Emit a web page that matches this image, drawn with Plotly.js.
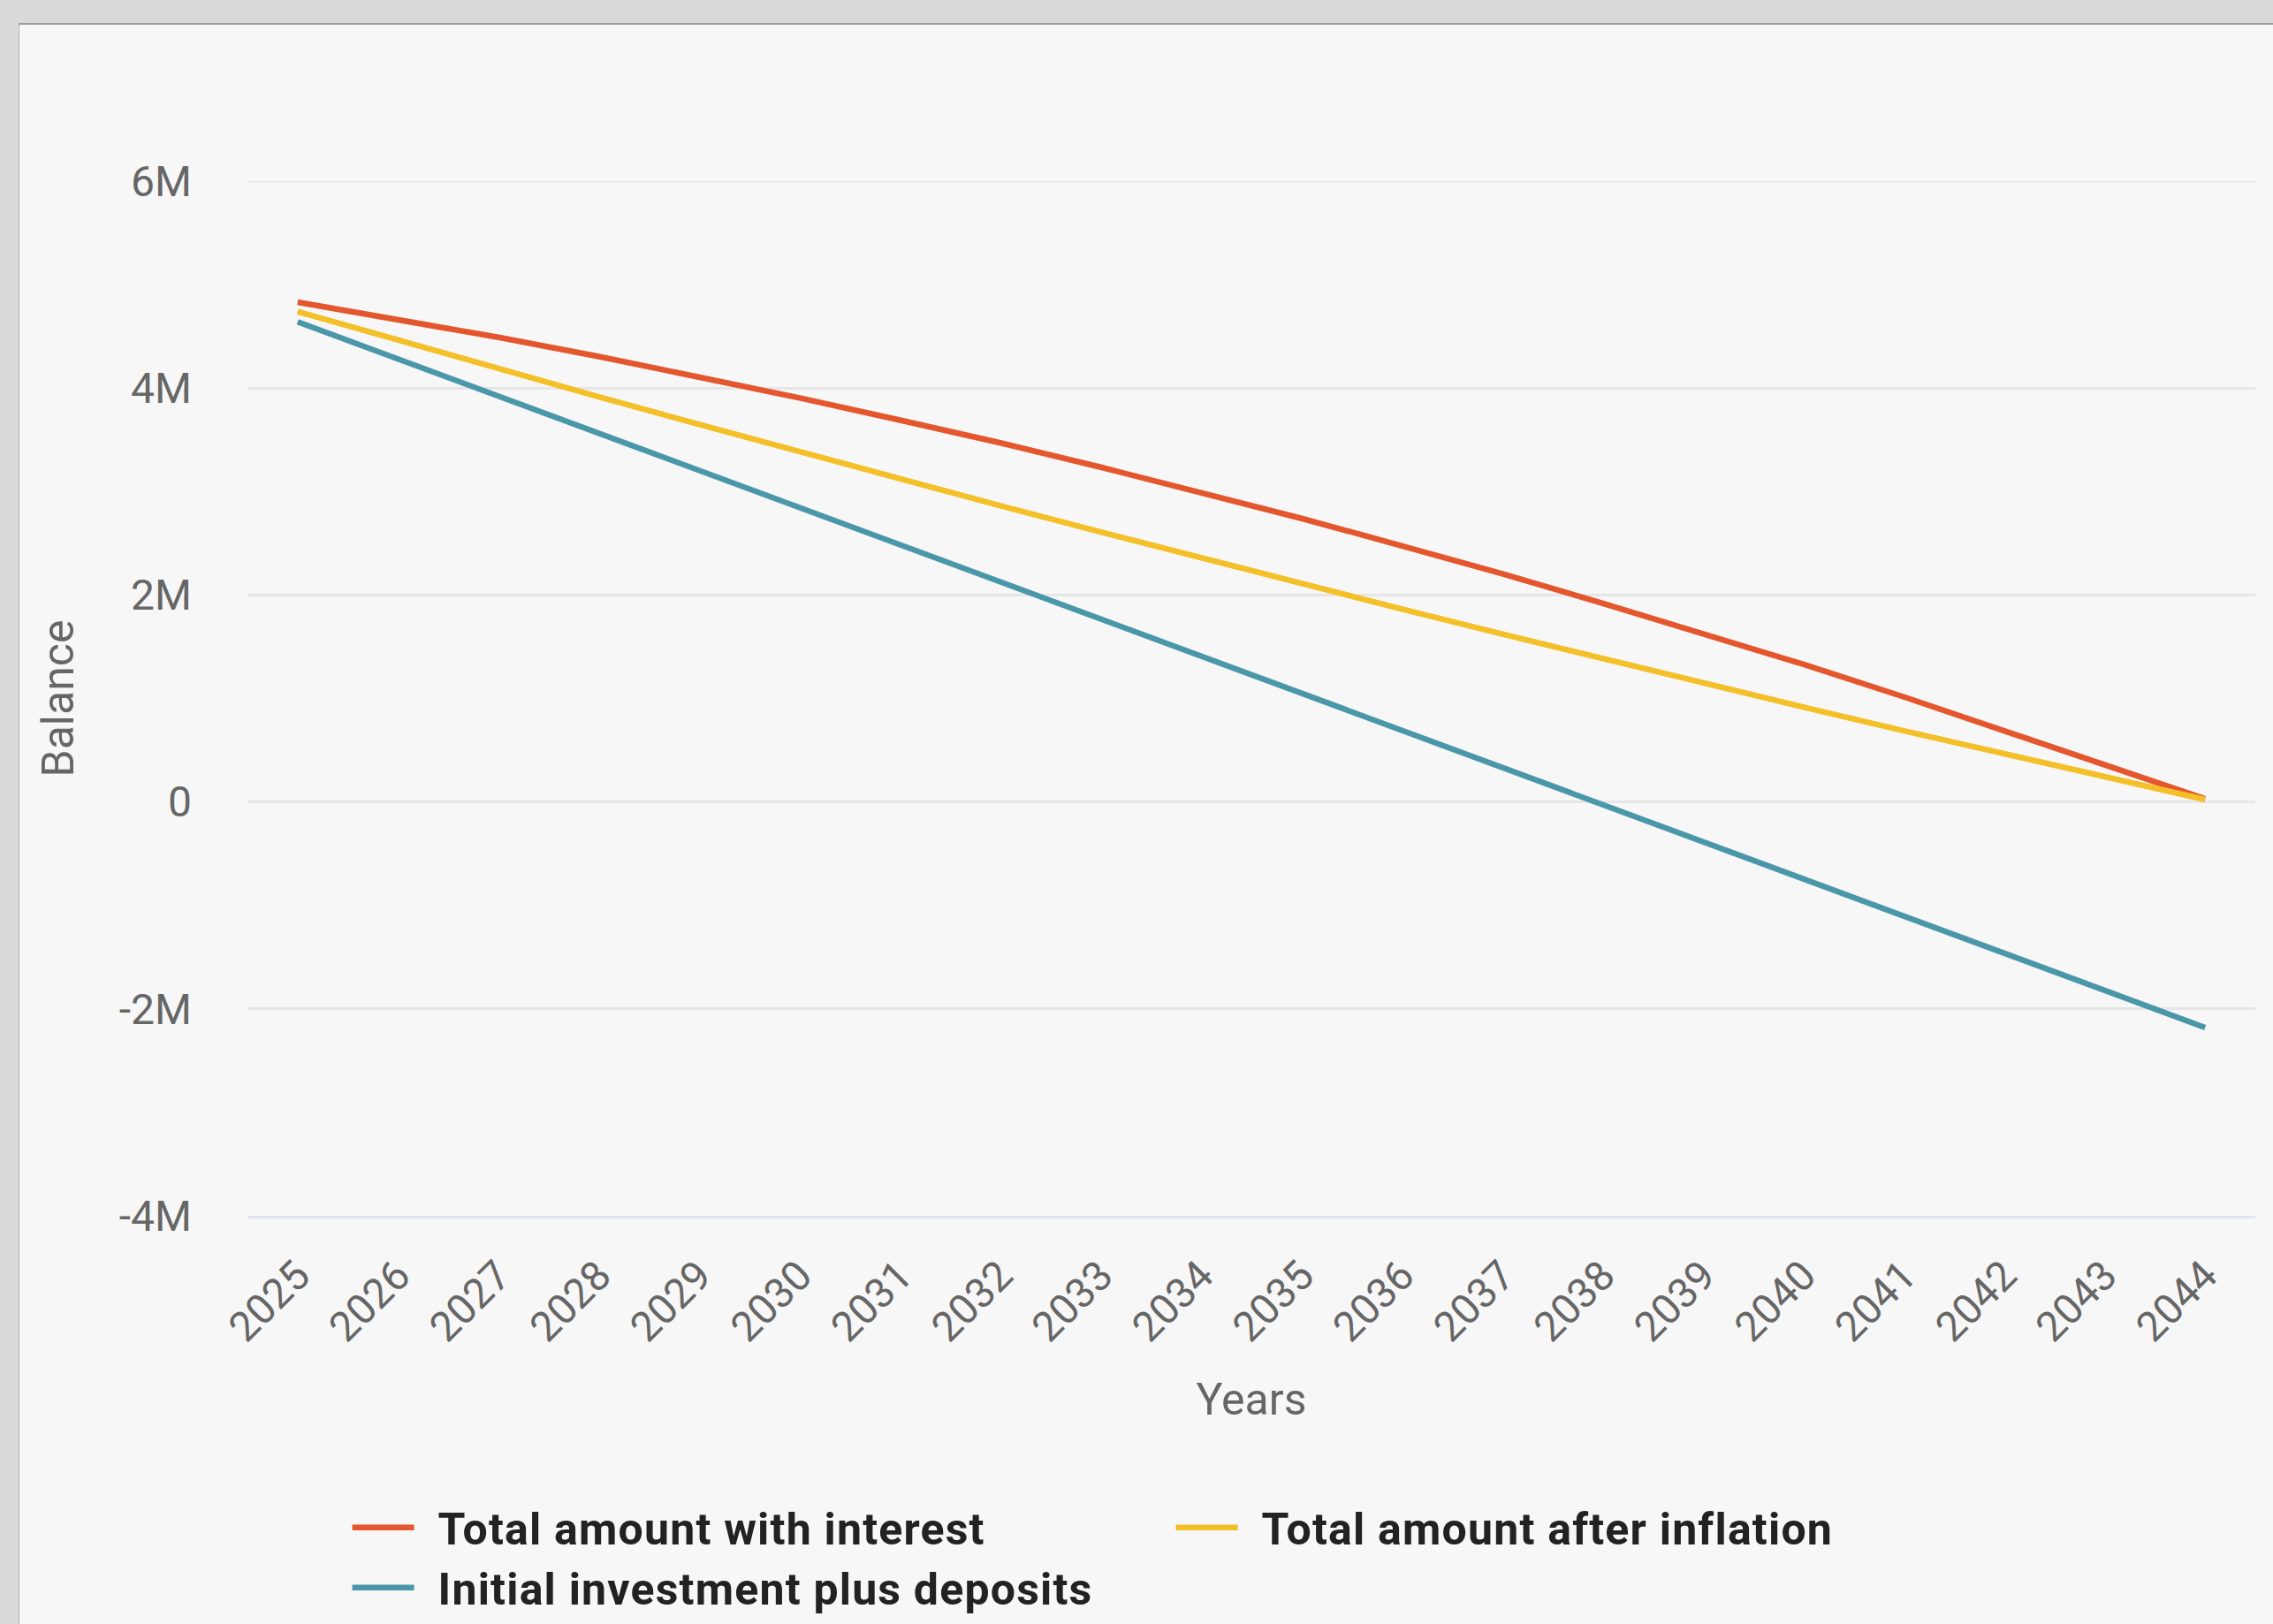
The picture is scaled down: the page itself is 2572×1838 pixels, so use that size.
<!DOCTYPE html>
<html>
<head>
<meta charset="utf-8">
<script src="https://cdn.plot.ly/plotly-3.0.1.min.js"></script>
<style>
  html, body { margin: 0; padding: 0; width: 2572px; height: 1838px; overflow: hidden; background: #d9d9d9; }
  #frame { position: absolute; left: 21px; top: 26px; width: 2551px; height: 1830px; border-top: 2px solid #9c9c9c; border-left: 1px solid #b5b5b5; background: #f7f7f7; }
  #chart { width: 2551px; height: 1830px; }
  #chart .legend .legendtext { transform: translateX(22px); letter-spacing: 1.2px; }
</style>
</head>
<body>
<div id="frame"><div id="chart"></div></div>
<script>
// ---- data ----
const years = ["2025","2026","2027","2028","2029","2030","2031","2032","2033","2034",
               "2035","2036","2037","2038","2039","2040","2041","2042","2043","2044"];
const totalWithInterest = [4830000, 4665000, 4490000, 4305000, 4110000, 3905000, 3690000, 3470000, 3235000, 2990000,
                           2740000, 2475000, 2205000, 1920000, 1630000, 1330000, 1015000, 690000, 360000, 30000];
const totalAfterInflation = [4740000, 4462000, 4187000, 3916000, 3648000, 3383000, 3122000, 2863000, 2608000, 2357000,
                             2108000, 1863000, 1622000, 1383000, 1148000, 916000, 688000, 463000, 241000, 22000];
const initialPlusDeposits = [4640000, 4281000, 3922000, 3563000, 3204000, 2845000, 2486000, 2127000, 1768000, 1409000,
                             1050000, 691000, 332000, -27000, -386000, -745000, -1104000, -1463000, -1822000, -2181000];
const yTickVals = [-4000000, -2000000, 0, 2000000, 4000000, 6000000];
const yTickText = ["-4M", "-2M", "0", "2M", "4M", "6M"];
const seriesNames = ["Total amount with interest", "Total amount after inflation", "Initial investment plus deposits"];
const seriesColors = ["#e4572e", "#f4c02a", "#4b97aa"];

const seriesValues = [totalWithInterest, totalAfterInflation, initialPlusDeposits];
const traces = seriesValues.map((vals, i) => ({
  type: "scatter",
  mode: "lines",
  x: years,
  y: vals,
  name: seriesNames[i],
  line: { color: seriesColors[i], width: 6.5 },
  hoverinfo: "skip"
}));

const layout = {
  width: 2551,
  height: 1830,
  margin: { l: 258, r: 21, t: 177, b: 482, pad: 0 },
  paper_bgcolor: "#f7f7f7",
  plot_bgcolor: "#f7f7f7",
  font: { family: "Roboto, 'Open Sans', sans-serif", size: 48, color: "#666666" },
  showlegend: true,
  shapes: [
    { type: "line", xref: "paper", yref: "y", x0: 0, x1: 1, y0: 6000000, y1: 6000000,
      line: { color: "#e6e6e6", width: 3 }, layer: "below" }
  ],
  xaxis: {
    type: "category",
    range: [-0.5, 19.5],
    tickangle: -45,
    showgrid: false,
    zeroline: false,
    showline: true,
    linecolor: "#dfe4ee",
    linewidth: 3,
    ticks: "",
    ticklabelstandoff: 18,
    tickfont: { size: 47, color: "#666666" },
    title: { text: "Years", font: { size: 50, color: "#666666" }, standoff: 38 }
  },
  yaxis: {
    range: [-4000000, 6000000],
    tickvals: yTickVals,
    ticktext: yTickText,
    showgrid: true,
    gridcolor: "#e6e6e6",
    gridwidth: 3,
    zeroline: false,
    showline: false,
    ticks: "",
    ticklabelstandoff: 62,
    tickfont: { size: 48, color: "#666666" },
    title: { text: "Balance", font: { size: 50, color: "#666666" }, standoff: 35 }
  },
  legend: {
    orientation: "h",
    x: 0.050,
    xanchor: "left",
    y: -0.268,
    yanchor: "top",
    entrywidth: 847,
    entrywidthmode: "pixels",
    itemwidth: 70,
    bgcolor: "rgba(0,0,0,0)",
    font: { size: 50, color: "#222222", weight: "bold" }
  }
};

Plotly.newPlot("chart", traces, layout, { displayModeBar: false, staticPlot: true });
</script>
</body>
</html>
